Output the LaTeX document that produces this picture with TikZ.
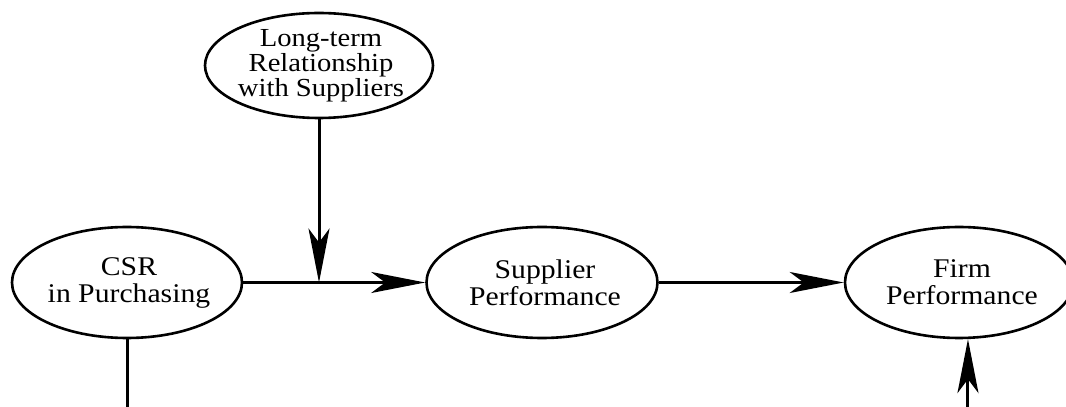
\documentclass[tikz,border=0pt]{standalone}
\usepackage{fontspec}
\setmainfont{Liberation Serif}
\usetikzlibrary{shapes.geometric,arrows.meta}
\begin{document}
\begin{tikzpicture}[x=1pt,y=1pt,
  ell/.style={draw, ellipse, line width=2.6pt, inner sep=0pt},
  lbl/.style={align=center, inner sep=0pt, xscale=1.1, transform shape, font=\fontsize{27}{27}\selectfont},
  conn/.style={line width=3pt, -{Stealth[length=54pt,width=21pt,inset=14pt]}},
  plain/.style={line width=3pt}]
\useasboundingbox (0,0) rectangle (1066,407);
\begin{scope}
\clip (0,0) rectangle (1066,407);
\node[ell, minimum width=228pt, minimum height=105pt] (top) at (319,341.5) {};
\node[ell, minimum width=230pt, minimum height=111pt] (csr) at (127,124.5) {};
\node[ell, minimum width=231pt, minimum height=111pt] (sup) at (542,124.5) {};
\node[ell, minimum width=228pt, minimum height=111pt] (firm) at (959,124.5) {};
\end{scope}
\node[lbl, font=\fontsize{26}{25}\selectfont] (topt) at ([xshift=2pt]top) {Long-term\\Relationship\\with Suppliers};
\node[lbl] (csrt) at ([xshift=2pt]csr) {CSR\\in Purchasing};
\node[lbl] (supt) at ([xshift=3pt]sup) {Supplier\\Performance};
\node[lbl] (firmt) at ([xshift=3pt]firm) {Firm\\Performance};
\coordinate (j) at (top.south |- csr.east);
\coordinate (bl) at (csr.south |- 0,0);
\coordinate (br) at (firm.-81 |- 0,0);
\draw[conn] (csr.east) -- (sup.west);
\draw[conn] (top.south) -- (j);
\draw[conn] (sup.east) -- (firm.west);
\draw[plain] (csr.south) -- (bl);
\draw[conn] (br) -- (firm.-81);
\end{tikzpicture}
\end{document}
